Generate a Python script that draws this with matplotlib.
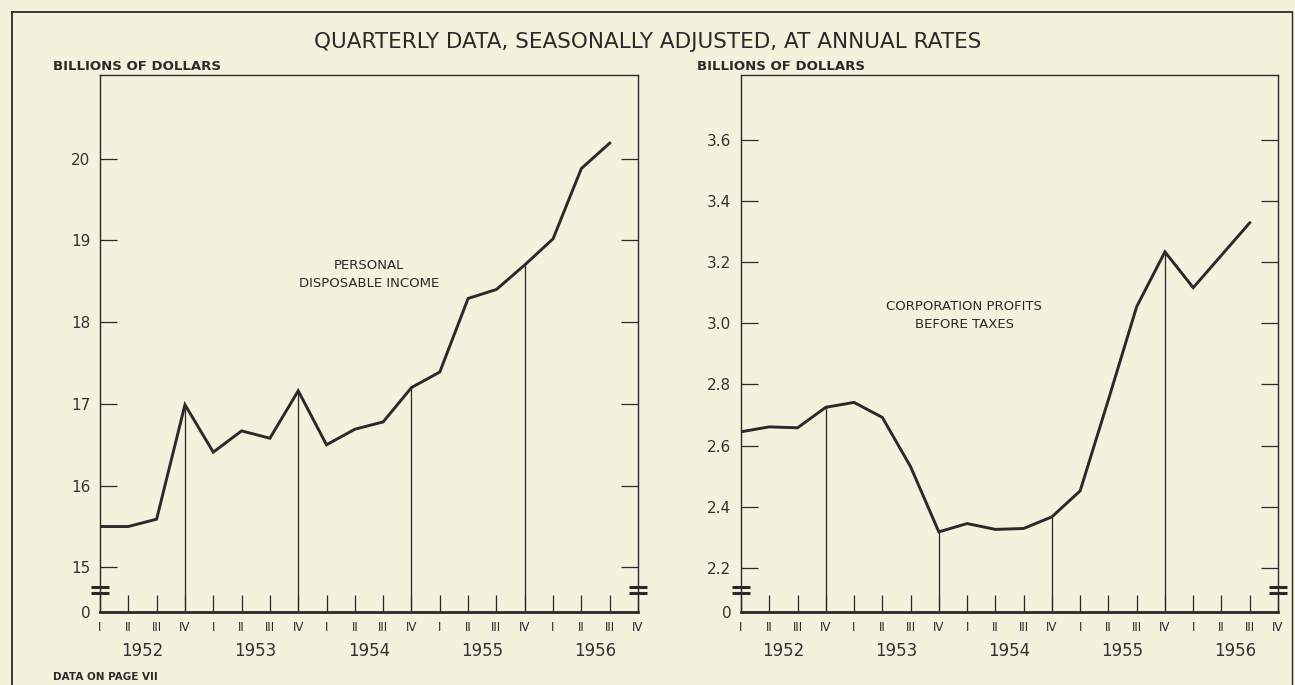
import matplotlib
matplotlib.use("Agg")
import matplotlib.pyplot as plt
from matplotlib.lines import Line2D

# quarters 1952 I .. 1956 IV
quarters = ["I", "II", "III", "IV"] * 5
years = ["1952", "1953", "1954", "1955", "1956"]

# personal disposable income, billions of dollars (1952 I .. 1956 III)
income = [15.50, 15.50, 15.59, 16.99,
          16.41, 16.67, 16.58, 17.16,
          16.50, 16.69, 16.78, 17.20,
          17.39, 18.29, 18.40, 18.70,
          19.02, 19.88, 20.19]

# corporation profits before taxes, billions of dollars
profits = [2.645, 2.661, 2.658, 2.725,
           2.741, 2.692, 2.531, 2.318,
           2.345, 2.326, 2.329, 2.367,
           2.452, 2.750, 3.054, 3.233,
           3.116, 3.222, 3.328]

income_ticks = [15, 16, 17, 18, 19, 20]
profit_ticks = [2.2, 2.4, 2.6, 2.8, 3.0, 3.2, 3.4, 3.6]

bg = "#f2f2dd"
ink = "#2a2a2a"

fig = plt.figure(figsize=(12.95, 6.85), dpi=100, facecolor=bg)

W, H = 1295.0, 685.0
bot = (H - 611.7) / H
hgt = (611.7 - 75.3) / H
ax1 = fig.add_axes([100 / W, bot, 538 / W, hgt])
ax2 = fig.add_axes([741 / W, bot, 537 / W, hgt])


def setup(ax, data, ticks, ylo, yhi, fmt):
    ax.set_facecolor(bg)
    n = len(data)
    ax.plot(range(n), data, color=ink, lw=2.1, solid_joinstyle="miter", zorder=3)
    for q in (3, 7, 11, 15):
        ax.vlines(q, ylo, data[q], color=ink, lw=0.9)
    ax.set_xlim(0, 19)
    ax.set_ylim(ylo, yhi)

    for s in ax.spines.values():
        s.set_color(ink)
        s.set_linewidth(1.0)
    ax.spines["bottom"].set_linewidth(2.0)

    ax.set_xticks(range(20))
    ax.set_xticklabels(quarters)
    ax.set_xticks([i * 4 + 1.5 for i in range(5)], minor=True)
    ax.set_xticklabels(years, minor=True)
    ax.tick_params(axis="x", which="major", direction="in", length=12, width=0.9,
                   color=ink, labelsize=8.5, labelcolor=ink, pad=7)
    ax.tick_params(axis="x", which="minor", length=0, labelsize=12,
                   labelcolor="#333333", pad=22)

    ax.set_yticks([ylo] + ticks)
    ax.set_yticklabels(["0"] + [fmt.format(t) for t in ticks])
    ax.tick_params(axis="y", direction="in", length=12, width=0.9, color=ink,
                   left=True, right=True, labelsize=11, labelcolor="#333333", pad=7)

    # axis break marks
    for yb in (0.0466, 0.0343):
        for xb in (0.0, 1.0):
            ax.plot([xb - 0.017, xb + 0.017], [yb, yb], transform=ax.transAxes,
                    color=ink, lw=2.2, clip_on=False, solid_capstyle="butt")


setup(ax1, income, income_ticks, 14.458, 21.02, "{:.0f}")
setup(ax2, profits, profit_ticks, 2.057, 3.81, "{:.1f}")

ax1.text(9.5, 18.58, "PERSONAL\nDISPOSABLE INCOME", ha="center", va="center",
         fontsize=9.5, color=ink, linespacing=1.5)
ax2.text(7.9, 3.025, "CORPORATION PROFITS\nBEFORE TAXES", ha="center", va="center",
         fontsize=9.5, color=ink, linespacing=1.5)

fig.text(0.5, 1 - 42 / H, "QUARTERLY DATA, SEASONALLY ADJUSTED, AT ANNUAL RATES",
         ha="center", va="center", fontsize=15.5, color=ink)
fig.text(53 / W, 1 - 66 / H, "BILLIONS OF DOLLARS", ha="left", va="center",
         fontsize=9.5, fontweight="bold", color=ink)
fig.text(697 / W, 1 - 66 / H, "BILLIONS OF DOLLARS", ha="left", va="center",
         fontsize=9.5, fontweight="bold", color=ink)
fig.text(53 / W, 1 - 677 / H, "DATA ON PAGE VII", ha="left", va="center",
         fontsize=7.5, fontweight="bold", color=ink)

# outer border
fig.add_artist(Line2D([12 / W, 12 / W], [0, 1 - 12 / H], color=ink, lw=1.3))
fig.add_artist(Line2D([12 / W, 1292 / W], [1 - 12 / H, 1 - 12 / H], color=ink, lw=1.3))
fig.add_artist(Line2D([1292 / W, 1292 / W], [0, 1 - 12 / H], color=ink, lw=1.0))

fig.savefig("out.png", dpi=100, facecolor=bg)
